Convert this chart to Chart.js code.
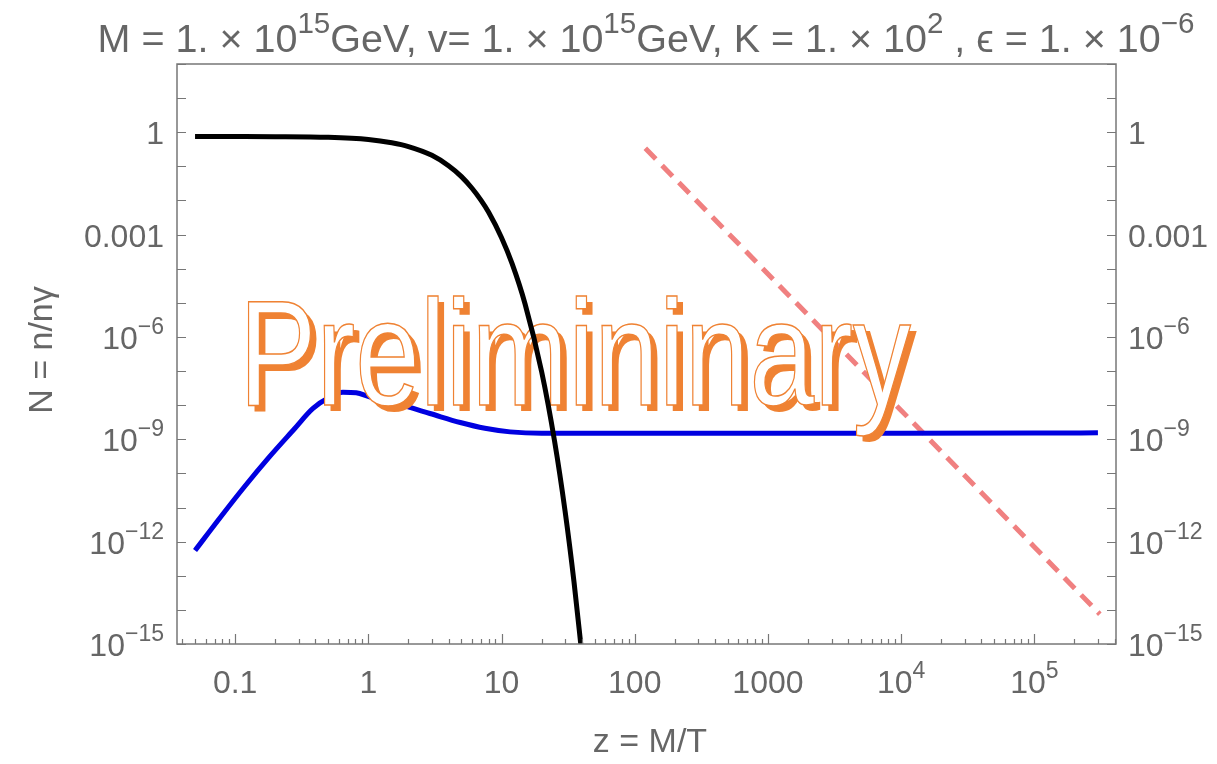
<!DOCTYPE html>
<html>
<head>
<meta charset="utf-8">
<script src="https://cdn.jsdelivr.net/npm/chart.js@4.4.1/dist/chart.umd.min.js"></script>
<style>
  html, body { margin: 0; padding: 0; background: #fff; }
  canvas { display: block; }
</style>
</head>
<body>
<canvas id="chartN" width="1217" height="764"></canvas>
<script>
// equilibrium abundance (black)
const zEq = [0.05, 0.1, 0.2, 0.5, 1, 1.5, 2, 3, 4, 5, 6, 7, 8, 10, 12, 15, 20, 25, 30, 35, 40];
const nEq = [0.75, 0.748, 0.743, 0.708, 0.61, 0.49, 0.38, 0.21, 0.104, 0.050, 0.0228, 0.0102, 0.0045,
             8.1e-4, 1.4e-4, 9.4e-6, 9.5e-8, 8.8e-10, 7.7e-12, 6.5e-14, 5.3e-16];

// solution (blue)
const zSol = [0.05, 0.076, 0.117, 0.18, 0.278, 0.382, 0.511, 0.643, 0.811, 1.02, 1.7, 2.9, 4.9, 7.5, 11.6, 20,
              100, 1000, 10000, 100000, 300000];
const nSol = [5.5e-13, 4.7e-12, 4.0e-11, 3.0e-10, 2.0e-9, 7.9e-9, 1.7e-8, 2.4e-8, 2.3e-8, 1.75e-8,
              1.05e-8, 5.7e-9, 3.1e-9, 2.1e-9, 1.65e-9, 1.5e-9, 1.5e-9, 1.5e-9, 1.5e-9, 1.52e-9, 1.55e-9];

// power law (red dashed)
const zPow = [120, 1000, 10000, 100000, 310000];
const nPow = [0.34, 7.0e-5, 7.0e-9, 7.0e-13, 7.5e-15];

const xTickValues = [0.1, 1, 10, 100, 1000, 1e4, 1e5];
const xTickLabels = ['0.1', '1', '10', '100', '1000', '10^4', '10^5'];
const yTickValues = [1, 1e-3, 1e-6, 1e-9, 1e-12, 1e-15];
const yTickLabels = ['1', '0.001', '10^\u22126', '10^\u22129', '10^\u221212', '10^\u221215'];

const titleParts = [['M = 1. \u00d7 10', false], ['15', true], ['GeV, v= 1. \u00d7 10', false], ['15', true],
                    ['GeV, K = 1. \u00d7 10', false], ['2', true], [' , \u03f5 = 1. \u00d7 10', false], ['\u22126', true]];
const xTitle = 'z = M/T';
const yTitle = 'N = n/n\u03b3';
const watermark = 'Prelimininary';

const FONT = '"Liberation Sans", Arial, sans-serif';
const GRAY = '#666';

function toPoints(xs, ys) {
  return xs.map((x, i) => ({ x: x, y: ys[i] }));
}

function splitLabel(label) {
  const k = label.indexOf('^');
  if (k < 0) return [[label, false]];
  return [[label.slice(0, k), false], [label.slice(k + 1), true]];
}

// draws text with superscripts, y is the baseline
function drawRich(ctx, parts, x, y, align, size, supRatio) {
  const supSize = size * (supRatio || 0.72);
  let total = 0;
  parts.forEach(p => {
    ctx.font = (p[1] ? supSize : size) + 'px ' + FONT;
    total += ctx.measureText(p[0]).width;
  });
  let cx = x;
  if (align === 'center') cx = x - total / 2;
  if (align === 'right') cx = x - total;
  ctx.textAlign = 'left';
  ctx.textBaseline = 'alphabetic';
  parts.forEach(p => {
    ctx.font = (p[1] ? supSize : size) + 'px ' + FONT;
    ctx.fillText(p[0], cx, p[1] ? y - size * 0.47 : y);
    cx += ctx.measureText(p[0]).width;
  });
}

function drawWatermark(ctx) {
  ctx.save();
  ctx.font = '150px ' + FONT;
  const w = ctx.measureText(watermark).width;
  const sx = 672 / w;
  ctx.translate(239, 405);
  ctx.scale(sx, 1);
  ctx.textAlign = 'left';
  ctx.textBaseline = 'alphabetic';
  ctx.fillStyle = '#ef8233';
  ctx.fillText(watermark, 6 / sx, 6);
  ctx.fillStyle = '#ffffff';
  ctx.fillText(watermark, 0, 0);
  ctx.strokeStyle = '#ef8233';
  ctx.lineWidth = 1.5;
  ctx.strokeText(watermark, 0, 0);
  ctx.restore();
}

const decorations = {
  id: 'decorations',
  beforeDatasetDraw(chart, args) {
    if (args.index === 0) drawWatermark(chart.ctx);
  },
  afterDraw(chart) {
    const ctx = chart.ctx;
    const a = chart.chartArea;
    const xs = chart.scales.x;
    const ys = chart.scales.y;
    ctx.save();

    // frame
    ctx.strokeStyle = '#777';
    ctx.lineWidth = 1.5;
    ctx.strokeRect(a.left, a.top, a.right - a.left, a.bottom - a.top);

    // x ticks (inward, bottom only)
    ctx.lineWidth = 1.2;
    ctx.beginPath();
    for (let e = -2; e <= 5; e++) {
      for (let m = 1; m <= 9; m++) {
        const v = m * Math.pow(10, e);
        if (v < xs.min || v > xs.max) continue;
        const px = Math.round(xs.getPixelForValue(v)) + 0.5;
        const len = m === 1 ? 10 : 5;
        ctx.moveTo(px, a.bottom);
        ctx.lineTo(px, a.bottom - len);
      }
    }
    // y ticks, left and right
    for (let e = -15; e <= 2; e++) {
      const py = Math.round(ys.getPixelForValue(Math.pow(10, e))) + 0.5;
      ctx.moveTo(a.left, py);
      ctx.lineTo(a.left + 9, py);
      ctx.moveTo(a.right, py);
      ctx.lineTo(a.right - 9, py);
    }
    ctx.stroke();

    ctx.fillStyle = GRAY;
    // x tick labels
    xTickValues.forEach((v, i) => {
      drawRich(ctx, splitLabel(xTickLabels[i]), xs.getPixelForValue(v), a.bottom + 49, 'center', 32);
    });
    // y tick labels, both sides
    yTickValues.forEach((v, i) => {
      const py = ys.getPixelForValue(v) + 12;
      const parts = splitLabel(yTickLabels[i]);
      drawRich(ctx, parts, a.left - 13, py, 'right', 32);
      drawRich(ctx, parts, a.right + 12, py, 'left', 32);
    });

    // title
    drawRich(ctx, titleParts, 646, 52, 'center', 39.5, 0.75);

    // axis titles
    ctx.font = '34px ' + FONT;
    ctx.textAlign = 'center';
    ctx.textBaseline = 'alphabetic';
    ctx.fillText(xTitle, 650, 752);
    ctx.save();
    ctx.translate(52, 350);
    ctx.rotate(-Math.PI / 2);
    ctx.fillText(yTitle, 0, 0);
    ctx.restore();

    ctx.restore();
  }
};

new Chart(document.getElementById('chartN').getContext('2d'), {
  type: 'line',
  data: {
    datasets: [
      {
        label: 'equilibrium',
        data: toPoints(zEq, nEq),
        borderColor: '#000000',
        borderWidth: 5,
        pointRadius: 0,
        cubicInterpolationMode: 'monotone',
        clip: 0
      },
      {
        label: 'solution',
        data: toPoints(zSol, nSol),
        borderColor: '#0000e0',
        borderWidth: 5,
        pointRadius: 0,
        cubicInterpolationMode: 'monotone',
        clip: 0
      },
      {
        label: 'power law',
        data: toPoints(zPow, nPow),
        borderColor: '#f08080',
        borderWidth: 5,
        borderDash: [15, 9],
        pointRadius: 0,
        clip: 0
      }
    ]
  },
  options: {
    responsive: false,
    animation: false,
    devicePixelRatio: 1,
    layout: { padding: { left: 177, right: 101, top: 64, bottom: 120 } },
    plugins: {
      legend: { display: false },
      tooltip: { enabled: false }
    },
    scales: {
      x: { type: 'logarithmic', min: 0.0366, max: 4.1e5, display: false },
      y: { type: 'logarithmic', min: 1e-15, max: 1e2, display: false }
    }
  },
  plugins: [decorations]
});
</script>
</body>
</html>
